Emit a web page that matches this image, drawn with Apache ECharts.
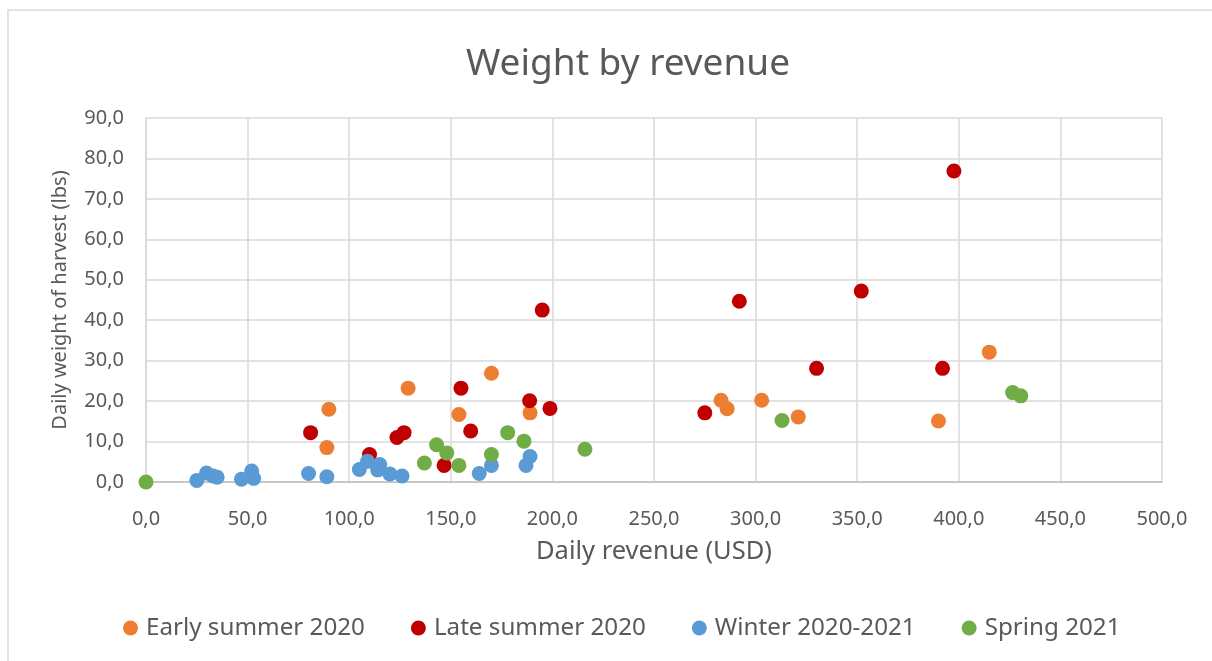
<!DOCTYPE html>
<html>
<head>
<meta charset="utf-8">
<title>Weight by revenue</title>
<script src="https://cdn.jsdelivr.net/npm/echarts@6/dist/echarts.min.js"></script>
<style>
  html, body { margin: 0; padding: 0; background: #ffffff; }
  #chart { width: 1212px; height: 661px; }
</style>
</head>
<body>
<div id="chart"></div>
<script>
// Daily revenue (USD) and daily harvest weight (lbs) per season
const seasonNames = ['Early summer 2020', 'Late summer 2020', 'Winter 2020-2021', 'Spring 2021'];
const seasonColors = ['#ED7D31', '#C00000', '#5B9BD5', '#70AD47'];

const earlySummerRevenue = [90, 89, 129, 154, 170, 189, 283, 286, 303, 321, 390, 415];
const earlySummerWeight  = [18, 8.5, 23.2, 16.7, 26.9, 17.1, 20.2, 18.1, 20.2, 16.1, 15.1, 32.1];

const lateSummerRevenue = [81, 110, 123.5, 127, 146.7, 155, 159.8, 188.8, 195, 198.8, 275, 292, 330, 352, 392, 397.6];
const lateSummerWeight  = [12.2, 6.8, 11, 12.2, 4.1, 23.2, 12.6, 20.1, 42.5, 18.2, 17.1, 44.7, 28.1, 47.2, 28.1, 76.9];

const winterRevenue = [25, 29.8, 33, 35, 47, 52, 53, 80, 89, 105, 109, 114, 115, 120, 126, 164, 170, 187, 189];
const winterWeight  = [0.4, 2.2, 1.5, 1.2, 0.7, 2.7, 0.9, 2.1, 1.3, 3.1, 5.1, 3, 4.3, 2, 1.5, 2.1, 4.1, 4.1, 6.3];

const springRevenue = [0, 137, 143, 148, 154, 170, 178, 186, 216, 313, 426.5, 430.5];
const springWeight  = [0, 4.7, 9.2, 7.2, 4.1, 6.8, 12.2, 10.1, 8.1, 15.2, 22.1, 21.3];

const revenueLists = [earlySummerRevenue, lateSummerRevenue, winterRevenue, springRevenue];
const weightLists  = [earlySummerWeight, lateSummerWeight, winterWeight, springWeight];

const FONT = '"Noto Sans", "DejaVu Sans", sans-serif';
const TEXT = '#595959';
const decimalComma = v => v.toFixed(1).replace('.', ',');

const series = seasonNames.map((name, i) => ({
  name: name,
  type: 'scatter',
  symbol: 'circle',
  symbolSize: 15,
  itemStyle: { color: seasonColors[i], opacity: 1 },
  data: revenueLists[i].map((x, j) => [x, weightLists[i][j]])
}));

const chart = echarts.init(document.getElementById('chart'), null, { renderer: 'canvas' });
chart.setOption({
  animation: false,
  backgroundColor: '#ffffff',
  graphic: [{
    type: 'rect',
    shape: { x: 8, y: 10, width: 1230, height: 700 },
    style: { fill: 'none', stroke: '#d9d9d9', lineWidth: 1.5 },
    silent: true,
    z: -1
  }],
  title: {
    text: 'Weight by revenue',
    left: 623,
    textAlign: 'center',
    top: 41,
    textStyle: { fontFamily: FONT, fontSize: 37, fontWeight: 'normal', color: TEXT }
  },
  legend: {
    data: seasonNames,
    bottom: 16,
    left: 118,
    icon: 'circle',
    itemWidth: 15,
    itemHeight: 15,
    itemGap: 46,
    textStyle: { fontFamily: FONT, fontSize: 24.2, color: TEXT, padding: [0, 0, 0, 3] }
  },
  grid: { left: 146, right: 50, top: 118, bottom: 179, containLabel: false },
  xAxis: {
    type: 'value',
    min: 0, max: 500, interval: 50,
    name: 'Daily revenue (USD)',
    nameLocation: 'middle',
    nameGap: 57,
    nameTextStyle: { fontFamily: FONT, fontSize: 25.5, color: TEXT },
    axisLine: { show: true, lineStyle: { color: '#bfbfbf', width: 1.5 } },
    axisTick: { show: false },
    axisLabel: { fontFamily: FONT, fontSize: 20, color: TEXT, margin: 27, formatter: decimalComma },
    splitLine: { show: true, lineStyle: { color: '#d9d9d9', width: 1.5 } }
  },
  yAxis: {
    type: 'value',
    min: 0, max: 90, interval: 10,
    name: 'Daily weight of harvest (lbs)',
    nameLocation: 'middle',
    nameGap: 76,
    nameTextStyle: { fontFamily: FONT, fontSize: 20, color: TEXT },
    axisLine: { show: true, lineStyle: { color: '#d9d9d9', width: 1.5 } },
    axisTick: { show: false },
    axisLabel: { fontFamily: FONT, fontSize: 20, color: TEXT, margin: 22, formatter: decimalComma },
    splitLine: { show: true, lineStyle: { color: '#d9d9d9', width: 1.5 } }
  },
  series: series
});
</script>
</body>
</html>
